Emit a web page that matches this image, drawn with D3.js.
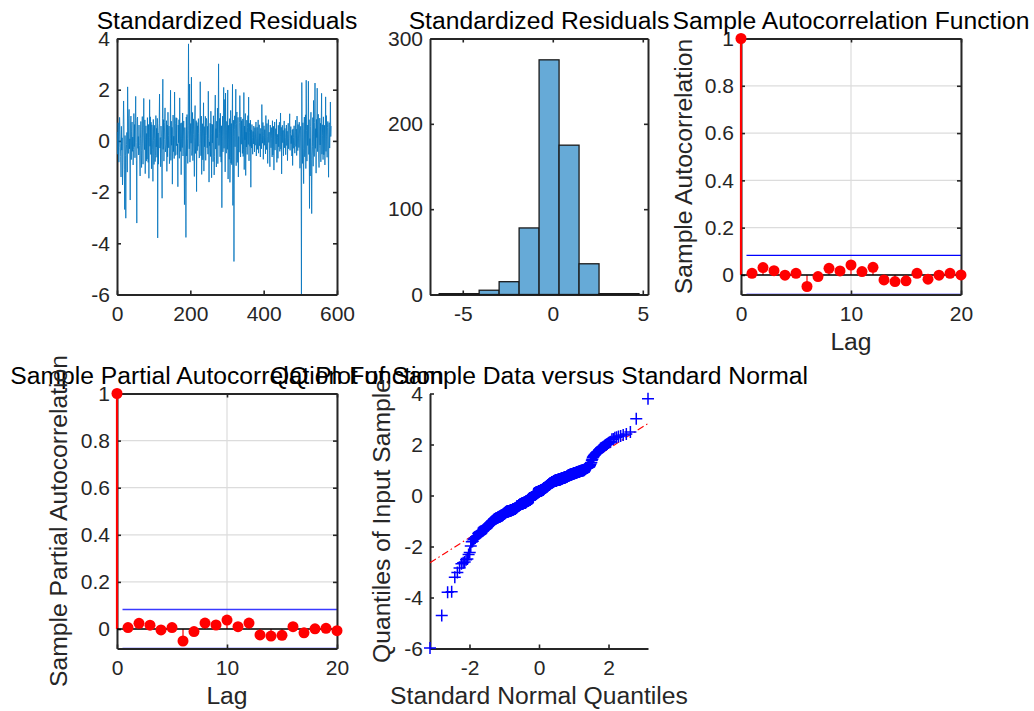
<!DOCTYPE html>
<html>
<head>
<meta charset="utf-8">
<script src="https://cdn.jsdelivr.net/npm/d3@7"></script>
<style>
  body { margin: 0; background: #fff; }
  svg text { font-family: "Liberation Sans", Arial, sans-serif; }
</style>
</head>
<body>
<svg id="fig" width="1034" height="711"></svg>
<script>
// standardized residuals (584 obs)
const residuals = [
  0.35,-0.52,0.71,-0.21,-0.83,-0.27,0.92,0.44,-0.09,-0.61,-1.41,0.57,-0.36,0.12,-1.72,-0.86,0.63,1.56,0.66,-1.13,
  -2.68,0.21,-0.58,-3.02,-0.54,-0.14,0.33,-1.22,2.11,0.52,-0.49,0.86,1.23,-0.31,0.08,-2.31,0.66,0.97,-0.73,0.38,
  0.74,-0.41,0.15,-0.94,-0.33,1.07,-0.22,0.64,-0.66,0.81,1.74,-0.06,-0.78,-3.21,0.87,0.93,-0.29,0.17,-0.55,0.62,
  -0.18,-0.57,-1.37,0.11,0.76,-0.38,-1.04,0.44,0.95,-0.12,-0.91,0.54,1.66,0.23,-0.34,0.82,-1.28,0.07,0.59,-0.79,
  0.29,-0.71,0.91,-0.16,-0.84,0.64,-1.46,0.14,1.61,-0.21,0.94,-0.53,0.73,-1.09,0.63,0.51,-0.32,-1.58,0.84,0.02,
  -0.92,0.61,0.09,-0.81,-0.56,0.99,-0.24,0.49,-0.64,0.88,-3.79,0.31,-0.91,0.42,0.69,1.83,-0.28,0.13,-1.01,0.58,
  0.16,-0.51,-2.24,0.87,2.41,-0.33,0.83,-0.79,0.06,0.72,1.29,-0.43,-0.27,-0.13,0.79,-1.19,0.62,-0.62,1.12,0.21,
  -0.27,0.58,-0.89,-0.61,0.10,1.98,-0.76,0.77,-0.17,0.53,-1.69,0.26,1.01,-0.42,0.18,-0.69,1.91,0.12,-0.57,0.68,
  0.91,-0.19,0.89,-0.54,-0.12,-1.79,0.62,-0.07,0.83,-0.68,1.68,0.19,-0.41,0.69,-1.32,0.11,0.71,-0.26,1.09,-0.59,
  0.23,0.78,-0.37,-2.49,0.52,-0.16,-0.63,-3.77,0.93,-0.59,1.03,0.08,-0.88,0.41,3.79,0.61,-0.31,2.22,-0.83,0.19,
  0.68,-0.09,2.49,-0.57,-0.36,1.11,-0.77,0.24,0.86,-0.28,-1.39,0.89,1.38,-0.49,0.14,0.79,-1.98,0.72,-0.38,0.59,
  -0.21,0.87,0.29,-0.67,-0.64,-0.11,2.31,0.35,-0.58,0.97,-1.31,0.17,0.67,-0.74,0.07,1.49,-1.18,0.56,-0.23,0.32,
  0.96,-0.76,0.21,0.88,0.78,-0.27,0.57,-0.52,1.94,0.09,-1.61,-0.04,-0.19,0.69,-0.61,1.16,0.28,-1.44,0.66,-0.08,
  0.63,-0.81,0.98,0.19,-1.33,-0.62,0.91,1.79,-0.32,0.48,-1.02,0.77,0.12,1.28,-0.89,0.58,3.01,-0.18,0.29,0.88,
  -0.62,1.08,-0.24,-0.83,0.59,-2.61,0.16,0.97,-0.43,0.66,2.09,-0.29,0.85,1.62,-1.21,1.87,0.22,-0.48,0.76,0.73,
  -0.33,1.99,-1.49,0.61,0.05,-0.72,0.87,-1.62,-0.65,1.19,-0.87,0.68,-0.93,0.49,2.21,-2.52,0.18,0.81,-4.71,0.45,
  0.98,-0.23,0.63,2.02,-0.97,0.67,1.13,-0.84,-0.31,0.92,-1.41,0.17,-0.44,0.71,1.77,0.96,-0.63,0.93,-0.13,0.79,
  0.18,-0.49,0.86,-0.61,-0.34,1.89,-1.12,0.58,0.04,1.07,-1.35,0.34,-0.24,0.81,-0.53,0.52,0.99,-0.14,1.71,-0.78,
  0.32,0.69,-0.21,0.81,-1.81,0.43,-0.28,0.64,0.13,-0.52,0.37,-0.12,0.58,0.24,-0.43,0.52,-0.17,0.31,0.74,-0.59,
  0.11,0.53,-0.33,0.41,0.82,-0.48,0.22,0.63,-0.19,0.28,-0.63,0.49,0.06,-0.31,1.42,0.37,-0.09,0.72,-0.72,0.21,
  0.59,-0.17,0.44,0.13,-0.51,0.99,-0.09,-0.34,0.68,0.16,-0.88,0.54,0.83,-0.06,0.34,-0.39,-1.01,0.62,0.19,-0.27,
  0.52,0.09,-0.63,0.79,-0.55,-0.21,0.57,-1.14,0.43,0.74,-0.36,0.19,0.48,-0.12,0.84,-0.84,0.26,0.14,-0.68,0.61,
  -0.23,0.39,0.73,-0.41,0.18,1.09,-0.32,0.53,-1.29,0.33,0.61,-0.07,0.41,-0.58,0.23,0.78,-0.27,0.49,0.12,-0.54,
  0.28,0.62,-0.18,0.38,-0.77,0.24,0.69,-0.31,0.08,0.51,1.06,-0.37,0.29,0.56,-0.11,0.21,-0.59,0.43,-0.96,0.47,
  0.13,-0.29,0.59,-0.19,-0.48,0.36,0.81,-0.22,0.46,-0.57,0.97,0.23,-0.38,0.64,0.11,-0.26,0.73,0.27,-1.07,0.39,
  0.57,-0.43,-5.98,2.28,0.12,-0.88,0.71,-0.31,-1.67,0.48,0.93,-0.62,0.24,1.02,-1.08,2.37,0.41,-0.79,0.62,-0.18,
  0.31,2.33,-0.53,0.83,-2.64,0.09,-1.37,0.57,1.12,-0.71,-2.84,-0.58,-0.23,0.91,-0.99,1.58,0.18,-0.61,0.72,2.26,
  -0.29,0.48,-1.26,0.84,0.13,2.06,-0.42,0.59,1.04,-0.63,-1.04,-0.28,0.89,-0.16,0.69,-0.82,0.66,1.86,-0.52,0.63,
  0.21,-0.73,0.94,-0.54,-0.32,0.61,-0.94,0.27,1.72,-0.41,0.99,0.16,-0.64,0.53,0.76,-0.19,-1.42,0.64,0.71,-0.28,
  0.34,1.52,0.17,0.58
];

// histogram of the residuals (bin edges and counts as drawn)
const histEdges = [-6.31,-5.20,-4.09,-2.98,-1.87,-0.76,0.35,1.46,2.57,3.68,4.79];
const histCounts = [1,1,5,15,78,275,175,36,1,1];

// sample ACF / PACF, lags 0..20
const lags = d3.range(0, 21);
const acfValues = [1,0.007,0.031,0.018,-0.001,0.007,-0.049,-0.007,0.028,0.017,0.042,
                   0.014,0.032,-0.021,-0.028,-0.025,0.007,-0.018,-0.001,0.007,0.000];
const pacfValues = [1,0.006,0.024,0.016,-0.004,0.006,-0.051,-0.011,0.025,0.017,0.038,
                    0.010,0.025,-0.025,-0.030,-0.027,0.010,-0.016,0.001,0.003,-0.007];
const confBound = 0.0828;

// tick values
const tsXTicks = [0,200,400,600], tsYTicks = [-6,-4,-2,0,2,4];
const histXTicks = [-5,0,5], histYTicks = [0,100,200,300];
const corrXTicks = [0,10,20], corrYTicks = [0,0.2,0.4,0.6,0.8,1];
const qqXTicks = [-2,0,2], qqYTicks = [-6,-4,-2,0,2,4];

const axCol = "#262626";
const tickFont = 21, labelFont = 24.7;
const svg = d3.select("#fig");

// inverse normal cdf (Acklam)
function norminv(p) {
  const a=[-39.69683028665376,220.9460984245205,-275.9285104469687,138.3577518672690,-30.66479806614716,2.506628277459239];
  const b=[-54.47609879822406,161.5858368580409,-155.6989798598866,66.80131188771972,-13.28068155288572];
  const c=[-0.007784894002430293,-0.3223964580411365,-2.400758277161838,-2.549732539343734,4.374664141464968,2.938163982698783];
  const d=[0.007784695709041462,0.3224671290700398,2.445134137142996,3.754408661907416];
  const pl = 0.02425;
  if (p < pl) {
    const q = Math.sqrt(-2*Math.log(p));
    return (((((c[0]*q+c[1])*q+c[2])*q+c[3])*q+c[4])*q+c[5])/((((d[0]*q+d[1])*q+d[2])*q+d[3])*q+1);
  }
  if (p <= 1-pl) {
    const q = p-0.5, r = q*q;
    return (((((a[0]*r+a[1])*r+a[2])*r+a[3])*r+a[4])*r+a[5])*q/(((((b[0]*r+b[1])*r+b[2])*r+b[3])*r+b[4])*r+1);
  }
  const q = Math.sqrt(-2*Math.log(1-p));
  return -(((((c[0]*q+c[1])*q+c[2])*q+c[3])*q+c[4])*q+c[5])/((((d[0]*q+d[1])*q+d[2])*q+d[3])*q+1);
}

// matlab-ish axes: ticks pointing in, optional box, title and labels
function makeAxes(box, x, y, o) {
  const g = svg.append("g").attr("transform", `translate(${box.x},${box.y})`);
  const fmt = o.fmt || (d => String(d));

  if (o.grid) {
    g.append("g").selectAll("line").data(o.xTicks).join("line")
      .attr("x1", d => x(d)).attr("x2", d => x(d)).attr("y1", 0).attr("y2", box.h)
      .attr("stroke", "#dcdcdc").attr("stroke-width", 1.2);
    g.append("g").selectAll("line").data(o.yTicks).join("line")
      .attr("y1", d => y(d)).attr("y2", d => y(d)).attr("x1", 0).attr("x2", box.w)
      .attr("stroke", "#dcdcdc").attr("stroke-width", 1.2);
  }
  // layer for marks that should sit under the axis lines
  g.append("g").attr("class", "under");

  const axes = [
    [d3.axisBottom(x).tickValues(o.xTicks).tickFormat(fmt).tickPadding(11.5), `translate(0,${box.h})`],
    [d3.axisLeft(y).tickValues(o.yTicks).tickFormat(fmt).tickPadding(7), null]
  ];
  if (o.box) {
    axes.push([d3.axisTop(x).tickValues(o.xTicks).tickFormat(""), null]);
    axes.push([d3.axisRight(y).tickValues(o.yTicks).tickFormat(""), `translate(${box.w},0)`]);
  }
  axes.forEach(([ax, tr]) => {
    const a = g.append("g").call(ax.tickSizeInner(-4).tickSizeOuter(0));
    if (tr) a.attr("transform", tr);
    a.select(".domain").attr("stroke", axCol).attr("stroke-width", 2);
    a.selectAll(".tick line").attr("stroke", axCol).attr("stroke-width", 1.6);
    a.selectAll(".tick text").attr("fill", axCol).style("font-size", tickFont + "px").style("font-family", "Liberation Sans, Arial, sans-serif");
  });

  if (o.title) {
    g.append("text").attr("x", box.w / 2).attr("y", -9.5).attr("text-anchor", "middle")
      .style("font-size", labelFont + "px").attr("fill", "#000").text(o.title);
  }
  if (o.xLabel) {
    g.append("text").attr("x", box.w / 2).attr("y", box.h + 55).attr("text-anchor", "middle")
      .style("font-size", labelFont + "px").attr("fill", axCol).text(o.xLabel);
  }
  if (o.yLabel) {
    g.append("text").attr("transform", `translate(${-o.yLabelOff},${box.h / 2}) rotate(-90)`)
      .attr("text-anchor", "middle")
      .style("font-size", labelFont + "px").attr("fill", axCol).text(o.yLabel);
  }
  return g;
}

// ---- 1. residual series
{
  const box = {x: 117, y: 38.5, w: 220, h: 256};
  const x = d3.scaleLinear().domain([0, 600]).range([0, box.w]);
  const y = d3.scaleLinear().domain([-6, 4]).range([box.h, 0]);
  const g = makeAxes(box, x, y, {xTicks: tsXTicks, yTicks: tsYTicks, box: true, title: "Standardized Residuals"});
  g.append("path").datum(residuals)
    .attr("fill", "none").attr("stroke", "#0072BD").attr("stroke-width", 0.8)
    .attr("d", d3.line().x((d, i) => x(i + 1)).y(d => y(d)));
}

// ---- 2. histogram
{
  const box = {x: 430, y: 38.5, w: 218, h: 256};
  const x = d3.scaleLinear().domain([-6.82, 5.29]).range([0, box.w]);
  const y = d3.scaleLinear().domain([0, 300]).range([box.h, 0]);
  const g = makeAxes(box, x, y, {xTicks: histXTicks, yTicks: histYTicks, box: true, title: "Standardized Residuals"});
  g.append("g").selectAll("rect").data(histCounts).join("rect")
    .attr("x", (d, i) => x(histEdges[i]))
    .attr("width", (d, i) => x(histEdges[i + 1]) - x(histEdges[i]))
    .attr("y", d => y(d))
    .attr("height", d => y(0) - y(d))
    .attr("fill", "#66AAD7").attr("stroke", "#1a1a1a").attr("stroke-width", 1.3);
}

// ---- 3/4. ACF and PACF
function corrPanel(box, values, title, yLabel, yLabelOff, boundCol) {
  const x = d3.scaleLinear().domain([0, 20]).range([0, box.w]);
  const y = d3.scaleLinear().domain([-confBound, 1]).range([box.h, 0]);
  const g = makeAxes(box, x, y, {xTicks: corrXTicks, yTicks: corrYTicks, box: true, grid: true,
    fmt: d3.format("~g"), title: title, xLabel: "Lag", yLabel: yLabel, yLabelOff: yLabelOff});
  // confidence bounds go under the axis lines (lower one sits on the bottom edge)
  g.select(".under").selectAll("line").data([confBound, -confBound]).join("line")
    .attr("x1", x(0.5)).attr("x2", x(20)).attr("y1", d => y(d)).attr("y2", d => y(d))
    .attr("stroke", boundCol).attr("stroke-width", 1.3);
  g.append("g").selectAll("line").data(values).join("line")
    .attr("x1", (d, i) => x(lags[i])).attr("x2", (d, i) => x(lags[i]))
    .attr("y1", y(0)).attr("y2", d => y(d))
    .attr("stroke", "#ff0000").attr("stroke-width", (d, i) => i === 0 ? 2.2 : 1.2);
  g.append("line").attr("x1", x(0)).attr("x2", x(20)).attr("y1", y(0)).attr("y2", y(0))
    .attr("stroke", "#000").attr("stroke-width", 1.5);
  g.append("g").selectAll("circle").data(values).join("circle")
    .attr("cx", (d, i) => x(lags[i])).attr("cy", d => y(d)).attr("r", 5.5)
    .attr("fill", "#ff0000");
}
corrPanel({x: 741, y: 38.5, w: 220, h: 256}, acfValues, "Sample Autocorrelation Function",
  "Sample Autocorrelation", 49, "#0000ff");
corrPanel({x: 117, y: 393.5, w: 220, h: 255}, pacfValues, "Sample Partial Autocorrelation Function",
  "Sample Partial Autocorrelation", 50, "#3a3aff");

// ---- 5. QQ plot
{
  const box = {x: 430, y: 393.5, w: 218, h: 255};
  const sorted = residuals.slice().sort(d3.ascending);
  const n = sorted.length;
  const qq = sorted.map((v, i) => ({q: norminv((i + 0.5) / n), v: v}));
  const x = d3.scaleLinear().domain(d3.extent(qq, d => d.q)).range([0, box.w]);
  const y = d3.scaleLinear().domain([-6, 4]).range([box.h, 0]);
  const g = makeAxes(box, x, y, {xTicks: qqXTicks, yTicks: qqYTicks, box: false,
    title: "QQ Plot of Sample Data versus Standard Normal",
    xLabel: "Standard Normal Quantiles", yLabel: "Quantiles of Input Sample", yLabelOff: 40});

  // reference line through the quartiles, dash-dot beyond them
  const q1x = norminv(0.25), q3x = norminv(0.75);
  const q1y = d3.quantileSorted(sorted, 0.25), q3y = d3.quantileSorted(sorted, 0.75);
  const slope = (q3y - q1y) / (q3x - q1x);
  const lineAt = q => q1y + slope * (q - q1x);
  const [xmin, xmax] = x.domain();
  g.append("line").attr("x1", x(xmin)).attr("y1", y(lineAt(xmin))).attr("x2", x(xmax)).attr("y2", y(lineAt(xmax)))
    .attr("stroke", "#ff0000").attr("stroke-width", 1.1).attr("stroke-dasharray", "7,3,1.5,3");
  g.append("line").attr("x1", x(q1x)).attr("y1", y(q1y)).attr("x2", x(q3x)).attr("y2", y(q3y))
    .attr("stroke", "#ff0000").attr("stroke-width", 1.1);

  g.append("g").selectAll("path").data(qq).join("path")
    .attr("transform", d => `translate(${x(d.q)},${y(d.v)})`)
    .attr("d", "M-6,0H6M0,-6V6")
    .attr("stroke", "#0000ff").attr("stroke-width", 1.5).attr("fill", "none");
}
</script>
</body>
</html>
